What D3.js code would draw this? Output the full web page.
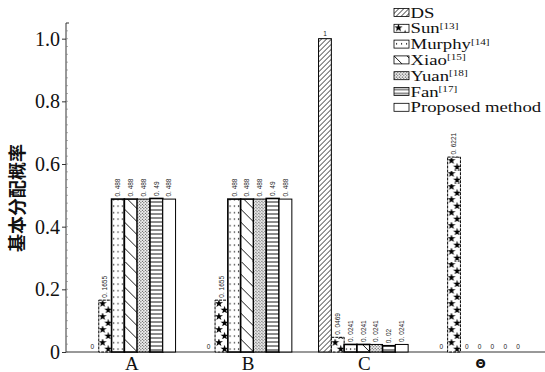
<!DOCTYPE html>
<html>
<head>
<meta charset="utf-8">
<script src="https://cdn.jsdelivr.net/npm/d3@7"></script>
<style>
  html, body { margin: 0; padding: 0; background: #fff; }
  svg { display: block; }
</style>
</head>
<body>
<svg id="chart" width="545" height="372"></svg>
<script>
// Focal elements of the frame
const categories = ["A", "B", "C", "Θ"];

// Method names and their reference numbers
const methods = ["DS", "Sun", "Murphy", "Xiao", "Yuan", "Fan", "Proposed method"];
const methodRefs = ["", "[13]", "[14]", "[15]", "[18]", "[17]", ""];

// Basic probability assignment produced by each method, one value per focal element
const dsValues       = [0,      0,      1,      0];
const sunValues      = [0.1655, 0.1655, 0.0469, 0.6221];
const murphyValues   = [0.488,  0.488,  0.0241, 0];
const xiaoValues     = [0.488,  0.488,  0.0241, 0];
const yuanValues     = [0.488,  0.488,  0.0241, 0];
const fanValues      = [0.49,   0.49,   0.02,   0];
const proposedValues = [0.488,  0.488,  0.0241, 0];

const yTicks = [0, 0.2, 0.4, 0.6, 0.8, 1.0];
const yTitle = "基本分配概率";

const seriesValues = [dsValues, sunValues, murphyValues, xiaoValues, yuanValues, fanValues, proposedValues];

const svg = d3.select("#chart");
const defs = svg.append("defs");

const y = d3.scaleLinear().domain([0, 1.05]).range([352, 23]);
const x = d3.scaleBand().domain(categories).range([72.6, 537.8])
  .paddingInner(0.2296).paddingOuter(0.115);
const xs = d3.scaleBand().domain(methods).range([0, x.bandwidth()]);
const bw = xs.bandwidth();

// Fill patterns, one per drawn rectangle so each tile starts at its left edge
function makePattern(id, method, ox, oy, w) {
  const p = defs.append("pattern").attr("id", id)
    .attr("patternUnits", "userSpaceOnUse").attr("x", ox).attr("y", oy);
  const bg = (pw, ph) => p.attr("width", pw).attr("height", ph)
    .append("rect").attr("width", pw).attr("height", ph).attr("fill", "#fff");
  switch (method) {
    case "DS":
      bg(5, 5);
      p.append("path").attr("d", "M0,5L5,0M-1,1L1,-1M4,6L6,4")
        .attr("stroke", "#000").attr("stroke-width", 0.8);
      break;
    case "Sun": {
      const ph = 13;
      bg(w, ph);
      const star = d3.symbol().type(d3.symbolStar).size(Math.min(22, w * 1.6));
      p.append("path").attr("d", star()).attr("transform", `translate(${w * 0.3},${3.5})`).attr("fill", "#000");
      p.append("path").attr("d", star()).attr("transform", `translate(${w * 0.74},${10})`).attr("fill", "#000");
      break;
    }
    case "Murphy":
      bg(w / 3, 6.5);
      p.append("rect").attr("x", w / 6 - 0.5).attr("y", 3).attr("width", 1.1).attr("height", 1.3).attr("fill", "#000");
      break;
    case "Xiao":
      bg(13, 13);
      p.append("path").attr("d", "M0,0L13,13M-1,12L1,14M12,-1L14,1")
        .attr("stroke", "#000").attr("stroke-width", 0.9);
      break;
    case "Yuan":
      bg(3, 3);
      p.append("rect").attr("x", 0.3).attr("y", 0.3).attr("width", 1).attr("height", 1).attr("fill", "#000");
      p.append("rect").attr("x", 1.8).attr("y", 1.8).attr("width", 1).attr("height", 1).attr("fill", "#000");
      break;
    case "Fan":
      bg(4, 4);
      p.append("path").attr("d", "M0,2L4,2").attr("stroke", "#000").attr("stroke-width", 0.9);
      break;
    default:
      bg(4, 4);
  }
}

const strokeW = { "DS": 1, "Sun": 1, "Murphy": 1.6, "Xiao": 1.6, "Yuan": 1, "Fan": 1.6, "Proposed method": 1 };

// Bar records
const bars = [];
categories.forEach((c, i) => {
  methods.forEach((m, j) => {
    bars.push({ cat: c, method: m, v: seriesValues[j][i], id: `bar-${i}-${j}` });
  });
});
bars.forEach(d => makePattern(d.id, d.method, x(d.cat) + xs(d.method), y(0), bw));

// Axes lines
const axisColor = "#333";
svg.append("line").attr("x1", 66).attr("x2", 545).attr("y1", y(0)).attr("y2", y(0))
  .attr("stroke", axisColor).attr("stroke-width", 1);

const yAxis = d3.axisLeft(y).tickValues(yTicks).tickSize(4).tickPadding(2)
  .tickFormat(d => d === 0 ? "0" : d3.format(".1f")(d));
const gy = svg.append("g").attr("transform", "translate(66,0)").call(yAxis);
gy.select(".domain").attr("stroke", axisColor).attr("d", `M0,${y(0)}V${y(1.05)}h3`);
gy.selectAll(".tick line").attr("stroke", axisColor);
gy.selectAll(".tick text").attr("font-family", "'Liberation Serif', 'Times New Roman', serif")
  .attr("font-size", 20).attr("fill", "#111");

// Minor ticks on the inside of the value axis
const minor = d3.range(0, 1.05, 0.025);
svg.append("g").selectAll("line").data(minor).join("line")
  .attr("x1", 66).attr("x2", 68).attr("y1", d => y(d)).attr("y2", d => y(d))
  .attr("stroke", "#777").attr("stroke-width", 0.6);

// Category labels
svg.append("g").selectAll("text").data(categories).join("text")
  .attr("x", d => x(d) + x.bandwidth() / 2 + 1)
  .attr("y", d => d === "Θ" ? 368 : 369.5)
  .attr("text-anchor", "middle")
  .attr("font-family", d => d === "Θ" ? "'DejaVu Sans', sans-serif" : "'Liberation Serif', 'Times New Roman', serif")
  .attr("font-weight", d => d === "Θ" ? "bold" : "normal")
  .attr("font-size", d => d === "Θ" ? 12 : 19)
  .attr("fill", "#111")
  .text(d => d);

// Value axis title
svg.append("text")
  .attr("transform", `translate(24,198) rotate(-90)`)
  .attr("text-anchor", "middle")
  .attr("font-family", "'Noto Sans CJK SC', sans-serif")
  .attr("font-weight", "bold")
  .attr("font-size", 18)
  .attr("fill", "#111")
  .text(yTitle);

// Bars
svg.append("g").selectAll("rect").data(bars.filter(d => d.v > 0)).join("rect")
  .attr("x", d => x(d.cat) + xs(d.method))
  .attr("y", d => y(d.v))
  .attr("width", bw)
  .attr("height", d => y(0) - y(d.v))
  .attr("fill", d => `url(#${d.id})`)
  .attr("stroke", "#000")
  .attr("stroke-width", d => strokeW[d.method])
  .attr("stroke-dasharray", d => d.method === "Sun" ? "3,1" : null);

// Value labels above each bar
const fmt = v => String(v).replace(".", ". ");
svg.append("g").selectAll("text").data(bars).join("text")
  .attr("transform", d => {
    const cx = x(d.cat) + xs(d.method) + bw / 2;
    const s = fmt(d.v);
    return s.length > 1 ? `translate(${cx},${y(d.v) - 2.5}) rotate(-90)` : `translate(${cx},${y(d.v) - 3})`;
  })
  .attr("dy", d => fmt(d.v).length > 1 ? "0.35em" : 0)
  .attr("text-anchor", d => fmt(d.v).length > 1 ? "start" : "middle")
  .attr("font-family", "'Liberation Sans', Arial, sans-serif")
  .attr("font-size", 6.5)
  .attr("fill", "#222")
  .text(d => fmt(d.v));

// Legend
const legend = svg.append("g");
methods.forEach((m, j) => {
  const base = 17.5 + j * 15.8;
  const pid = `leg-${j}`;
  makePattern(pid, m, 394, base - 9, 15);
  legend.append("rect").attr("x", 394).attr("y", base - 9).attr("width", 15).attr("height", 8)
    .attr("fill", `url(#${pid})`).attr("stroke", "#000").attr("stroke-width", 0.8);
  const t = legend.append("text")
    .attr("transform", `translate(410.5,${base}) scale(1.25,1)`)
    .attr("font-family", "'Liberation Serif', 'Times New Roman', serif")
    .attr("font-size", 15).attr("fill", "#111");
  t.append("tspan").text(m);
  if (methodRefs[j]) {
    t.append("tspan").attr("dy", -4.5).attr("font-size", 9).text(methodRefs[j]);
  }
});
</script>
</body>
</html>
